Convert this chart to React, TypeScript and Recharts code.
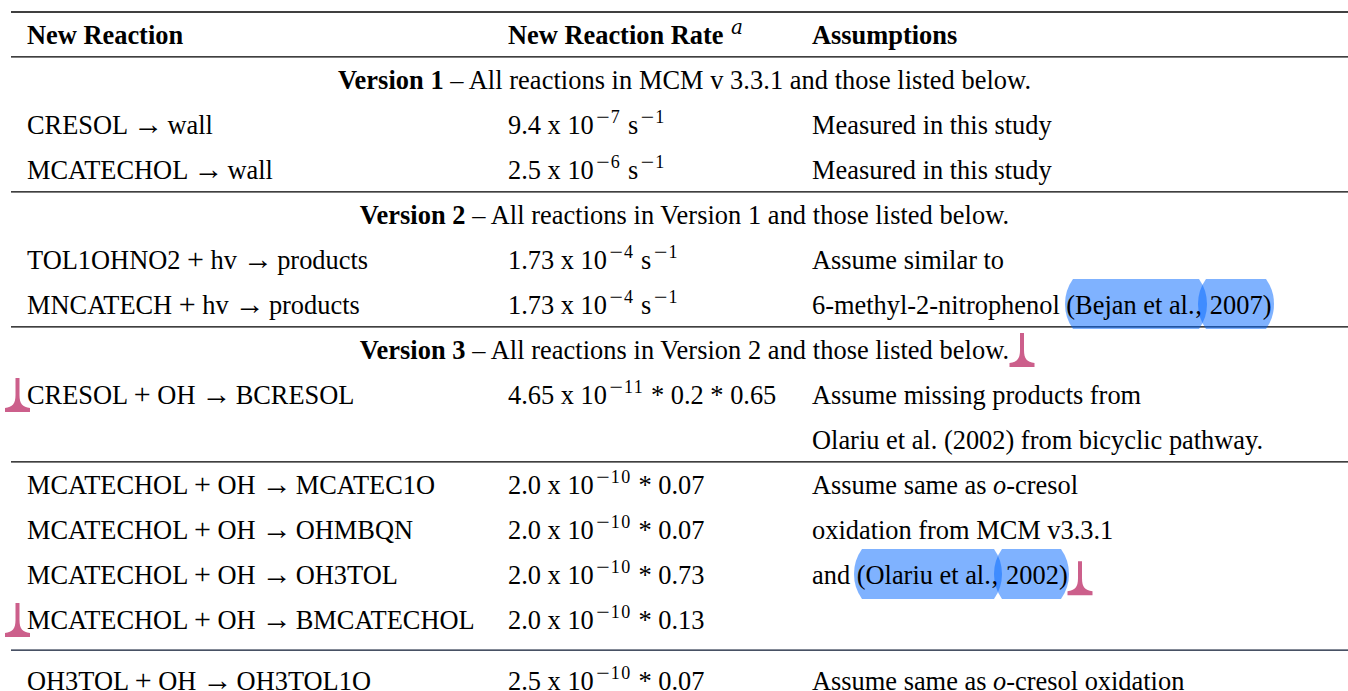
import { ReferenceLine, Scatter, ScatterChart, XAxis, YAxis } from "recharts";

const HEADERS = ["[b:New Reaction]", "[b:New Reaction Rate ]^{[i:a]}", "[b:Assumptions]"];

const VERSION_NOTES = [
  "[b:Version 1] – All reactions in MCM v 3.3.1 and those listed below.",
  "[b:Version 2] – All reactions in Version 1 and those listed below.",
  "[b:Version 3] – All reactions in Version 2 and those listed below.",
];
const VERSION_ROWS = [1, 4, 7];

const REACTIONS = [
  "CRESOL → wall",
  "MCATECHOL → wall",
  "TOL1OHNO2 + hv → products",
  "MNCATECH + hv → products",
  "CRESOL + OH → BCRESOL",
  "MCATECHOL + OH → MCATEC1O",
  "MCATECHOL + OH → OHMBQN",
  "MCATECHOL + OH → OH3TOL",
  "MCATECHOL + OH → BMCATECHOL",
  "OH3TOL + OH → OH3TOL1O",
];
const RATES = [
  "9.4 x 10^{−7} s^{−1}",
  "2.5 x 10^{−6} s^{−1}",
  "1.73 x 10^{−4} s^{−1}",
  "1.73 x 10^{−4} s^{−1}",
  "4.65 x 10^{−11} * 0.2 * 0.65",
  "2.0 x 10^{−10} * 0.07",
  "2.0 x 10^{−10} * 0.07",
  "2.0 x 10^{−10} * 0.73",
  "2.0 x 10^{−10} * 0.13",
  "2.5 x 10^{−10} * 0.07",
];
const REACTION_ROWS = [2, 3, 5, 6, 8, 10, 11, 12, 13, 14.36];

const ASSUMPTIONS = [
  "Measured in this study",
  "Measured in this study",
  "Assume similar to",
  "6-methyl-2-nitrophenol (Bejan et al., 2007)",
  "Assume missing products from",
  "Olariu et al. (2002) from bicyclic pathway.",
  "Assume same as [i:o]-cresol",
  "oxidation from MCM v3.3.1",
  "and (Olariu et al., 2002)",
  "Assume same as [i:o]-cresol oxidation",
];
const ASSUMPTION_ROWS = [2, 3, 5, 6, 8, 9, 10, 11, 12, 14.36];

const RULE_ROWS = [-0.49, 0.51, 3.51, 6.51, 9.51, 13.69];

// layout, x in px from the left end of the rules
const COL_X = [16, 497, 801];
const CENTER_X = 673.5;
const WIDTH = 1348;
const HEIGHT = 691;
const LEFT = 11;
const FONT_SIZE = 26.4;
const SERIF = "'Liberation Serif', serif";

const HIGHLIGHTS = [
  { row: 6, x: 1054, w: 142 },
  { row: 6, x: 1187, w: 76 },
  { row: 12, x: 843, w: 148 },
  { row: 12, x: 983, w: 75 },
];
const CARETS = [
  { row: 7, x: 1011 },
  { row: 8, x: 6.5 },
  { row: 13, x: 6.5 },
  { row: 12.07, x: 1069 },
];

const table = [
  ...HEADERS.map((text, i) => ({ x: COL_X[i], row: 0, text, anchor: "start", spacing: 0 })),
  ...VERSION_NOTES.map((text, i) => ({ x: CENTER_X, row: VERSION_ROWS[i], text, anchor: "middle", spacing: 0.05 })),
  ...REACTIONS.map((text, i) => ({ x: COL_X[0], row: REACTION_ROWS[i], text, anchor: "start", spacing: 0 })),
  ...RATES.map((text, i) => ({ x: COL_X[1], row: REACTION_ROWS[i], text, anchor: "start", spacing: 0 })),
  ...ASSUMPTIONS.map((text, i) => ({ x: COL_X[2], row: ASSUMPTION_ROWS[i], text, anchor: "start", spacing: 0 })),
];

type Run = {
  text: string;
  bold?: boolean;
  italic?: boolean;
  size?: number;
  rise?: number;
  family?: string;
  dx?: number;
  spacing?: number;
};

// the source sets these in math type, which is wider than the text face
function plainRuns(text: string): Run[] {
  return text
    .split(/(\+|→|\., )/)
    .filter(Boolean)
    .map((part) => {
      if (part === "→") return { text: part, size: 30, dx: -0.5, spacing: -2.5 };
      if (part === "+") return { text: part, size: 30 };
      if (part === "., ") return { text: part, spacing: 0.7 };
      return { text: part };
    });
}

function supRuns(text: string): Run[] {
  const runs: Run[] = [];
  if (text.startsWith("−")) runs.push({ text: "−", size: 24, rise: 9.5, dx: 2.5, spacing: 1 });
  runs.push({ text: text.replace("−", ""), size: 18, rise: 11, spacing: 1.5 });
  return runs;
}

/** Splits "[b:..]", "[i:..]" and "^{..}" markup into styled runs. */
function parseRuns(text: string) {
  const runs: Run[] = [];
  const re = /\^\{\[i:([^\]]*)\]\}|\^\{([^}]*)\}|\[b:([^\]]*)\]|\[i:([^\]]*)\]|([^\^\[]+)/g;
  let m: RegExpExecArray | null;
  while ((m = re.exec(text))) {
    if (m[1] !== undefined) runs.push({ text: m[1], italic: true, size: 20, rise: 10, family: "'DejaVu Serif', serif", dx: 1 });
    else if (m[2] !== undefined) runs.push(...supRuns(m[2]));
    else if (m[3] !== undefined) runs.push({ text: m[3], bold: true });
    else if (m[4] !== undefined) runs.push({ text: m[4], italic: true });
    else runs.push(...plainRuns(m[5]));
  }
  return runs;
}

function CellText(props: any) {
  const { cx, cy, payload } = props;
  let current = 0;
  return (
    <text
      x={cx}
      y={cy + 10}
      textAnchor={payload.anchor}
      fontFamily={SERIF}
      fontSize={FONT_SIZE}
      fill="#000"
      letterSpacing={payload.spacing}
      style={{ whiteSpace: "pre" }}
    >
      {parseRuns(payload.text).map((run, i) => {
        const rise = run.rise ?? 0;
        const dy = current - rise;
        current = rise;
        return (
          <tspan
            key={i}
            dy={dy}
            dx={run.dx ?? 0}
            fontFamily={run.family ?? SERIF}
            fontWeight={run.bold ? 700 : 400}
            fontStyle={run.italic ? "italic" : "normal"}
            fontSize={run.size ?? FONT_SIZE}
            letterSpacing={run.spacing ?? payload.spacing}
          >
            {run.text}
          </tspan>
        );
      })}
    </text>
  );
}

// citation highlight, its sides bulge outwards
function Highlight(props: any) {
  const { cx, cy, payload } = props;
  const w = payload.w;
  const t = cy - 25;
  const b = cy + 25;
  const d = `M${cx + 8},${t} L${cx + w - 8},${t} A43,43 0 0 1 ${cx + w - 8},${b} L${cx + 8},${b} A43,43 0 0 1 ${cx + 8},${t} Z`;
  return <path d={d} fill="rgb(0,102,255)" fillOpacity={0.5} />;
}

// comment marker
function Caret(props: any) {
  const { cx, cy } = props;
  const y = cy + 18;
  const d = `M${cx - 2},${y - 34} L${cx + 2},${y - 34} L${cx + 2},${y - 17} C${cx + 2},${y - 8} ${cx + 5},${y - 5} ${cx + 12.5},${y - 4} L${cx + 12.5},${y} L${cx - 12.5},${y} L${cx - 12.5},${y - 4} C${cx - 5},${y - 5} ${cx - 2},${y - 8} ${cx - 2},${y - 17} Z`;
  return <path d={d} fill="#cc5f8b" />;
}

export default function App() {
  return (
    <div style={{ position: "absolute", left: 0, top: 0, width: WIDTH, height: HEIGHT, background: "#fff", overflow: "hidden" }}>
      <ScatterChart width={WIDTH} height={HEIGHT} margin={{ top: 0, right: 0, bottom: 0, left: LEFT }}>
        <XAxis type="number" dataKey="x" domain={[0, WIDTH - LEFT]} hide />
        <YAxis type="number" dataKey="row" domain={[-0.7556, 14.6]} reversed hide width={0} />
        {RULE_ROWS.map((row, i) => (
          <ReferenceLine key={row} y={row} stroke={i === 5 ? "#0b1730" : "#000"} strokeWidth={i === 0 ? 1.5 : 1.2} />
        ))}
        <Scatter data={HIGHLIGHTS} shape={Highlight} isAnimationActive={false} />
        <Scatter data={table} shape={CellText} isAnimationActive={false} />
        <Scatter data={CARETS} shape={Caret} isAnimationActive={false} />
      </ScatterChart>
    </div>
  );
}
